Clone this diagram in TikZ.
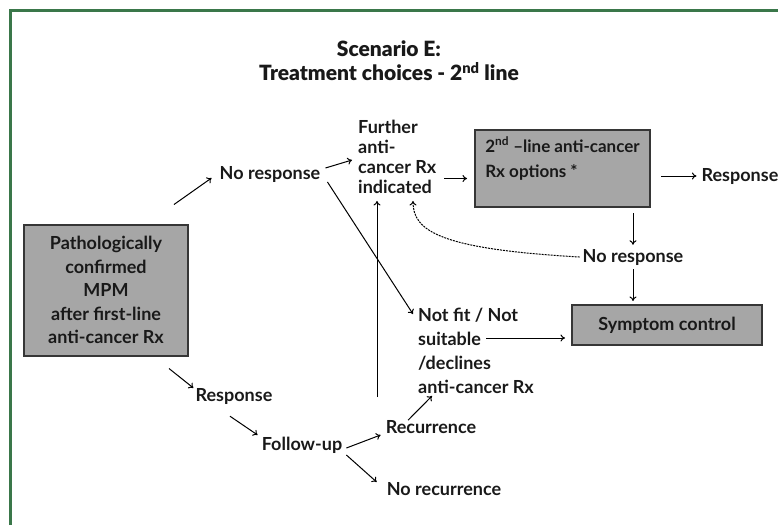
\documentclass[tikz,border=0pt]{standalone}
\usepackage{fontspec}
\setmainfont{Lato}[UprightFont=* Bold, BoldFont=* Black]
\usetikzlibrary{arrows.meta}
\usetikzlibrary{calc}
\usetikzlibrary{positioning}
\definecolor{framegreen}{HTML}{3A774A}
\definecolor{boxgray}{HTML}{A6A6A6}
\definecolor{boxline}{HTML}{363636}
\tikzset{
  x=1pt, y=-1pt,
  every node/.style={font=\fontsize{18}{20}\selectfont, text=black!90},
  txt/.style={inner sep=0pt},
  graybox/.style={draw=boxline, fill=boxgray, line width=2pt, inner sep=4pt},
  arrow/.style={->,>={To[length=4.5pt,width=7pt]}, line width=1pt},
  dotarrow/.style={arrow, dash pattern=on 2pt off 1pt}
}
\begin{document}
\begin{tikzpicture}
  \useasboundingbox (0,0) rectangle (778,525);
  \draw[framegreen, line width=3pt] (10,525) -- (10,10.5) -- (778,10.5);

  \node[font=\bfseries\fontsize{21}{24}\selectfont, align=center] (title) at (389,61)
    {Scenario E:\\Treatment choices - 2\textsuperscript{nd} line};

  \node[graybox, minimum width=164, minimum height=131, align=center,
        font=\fontsize{18}{23.5}\selectfont] (mpm) at (106,290)
    {Pathologically\\confirmed\\MPM\\after first-line\\anti-cancer Rx};
  \node[txt] (nr1) at (270,174) {No response};
  \node[txt, anchor=west, align=left] (fri) at (358,157)
    {Further\\anti-\\cancer Rx\\indicated};
  \node[graybox, minimum width=175, minimum height=77, align=left,
        font=\fontsize{17}{25}\selectfont] (opts) at (562.5,168.5)
    {2\textsuperscript{nd} --line anti-cancer\\Rx options *\\[-2pt]};
  \node[txt] (resp1) at (740,176) {Response};
  \node[txt] (nr2) at (633,257) {No response};
  \node[graybox, minimum width=190, minimum height=40] (sym) at (667,325) {Symptom control};
  \node[txt, anchor=west, align=left, font=\fontsize{18}{24}\selectfont] (nf) at (418,351)
    {Not fit / Not\\suitable\\/declines\\anti-cancer Rx};
  \node[txt] (resp2) at (234,396) {Response};
  \node[txt] (follow) at (302,445) {Follow-up};
  \node[txt] (recur) at (431,427) {Recurrence};
  \node[txt] (norecur) at (444,489) {No recurrence};

  % first-line outcome
  \draw[arrow] ($(mpm.north east)+(-15,-19)$) -- ($(nr1.west)+(-8,4)$);
  \draw[arrow] ($(mpm.south east)+(-20,12)$) -- ($(resp2.west)+(-2,-8)$);
  \draw[arrow] ($(nr1.east)+(5,-6)$) -- ($(fri.west)+(-6,3)$);
  \draw[arrow] ($(nr1.east)+(7,8)$) -- ($(nf.north west)+(-5,6)$);

  % second-line treatment
  \draw[arrow] ($(opts.west)+(-30,10)$) -- ($(opts.west)+(-7,10)$);
  \draw[arrow, shorten <=10pt, shorten >=5pt] (opts.east |- resp1.west) -- (resp1.west);
  \draw[arrow, shorten <=5pt, shorten >=4pt] (opts.south -| nr2.north) -- (nr2.north);
  \draw[arrow, shorten <=4pt, shorten >=3pt] (nr2.south) -- (nr2.south |- sym.north);
  \draw[dotarrow] ($(nr2.west)+(-3,0)$) .. controls +(-140,-8) and +(0,30) .. ($(fri.south west)+(55,7)$);
  \draw[arrow] ($(sym.west)+(-85,13)$) -- ($(sym.west)+(-6,13)$);

  % follow-up
  \draw[arrow] ($(resp2.south)+(-4,12)$) -- ($(follow.west)+(-4,-10)$);
  \draw[arrow] ($(follow.east)+(4,3)$) -- ($(recur.west)+(-5,8)$);
  \draw[arrow] ($(follow.east)+(4,10)$) -- ($(norecur.west)+(-10,-7)$);
  \draw[arrow] ($(recur.north)+(-23,0)$) -- ($(nf.south west)+(14,2)$);
  \draw[arrow] (377,397) -- ($(fri.south west)+(19,7)$);
\end{tikzpicture}
\end{document}
